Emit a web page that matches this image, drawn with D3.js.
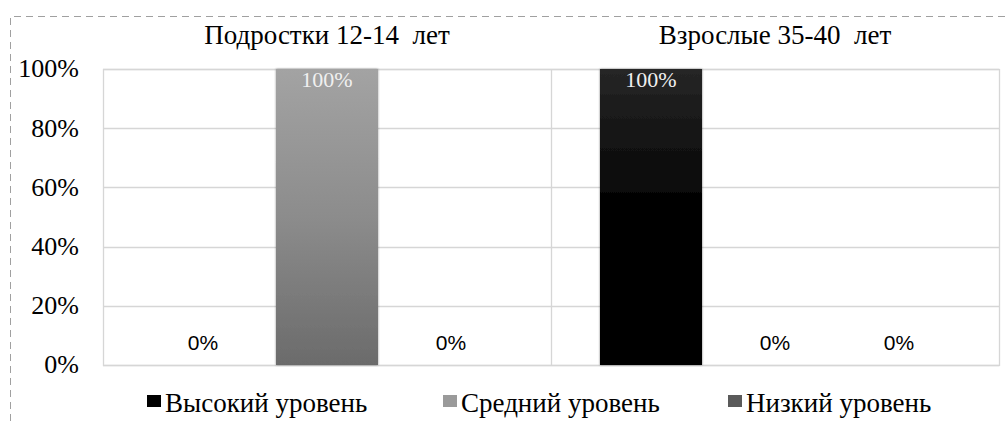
<!DOCTYPE html>
<html>
<head>
<meta charset="utf-8">
<script src="https://cdn.jsdelivr.net/npm/d3@7"></script>
<style>
  html, body { margin: 0; padding: 0; background: #fff; }
  svg { display: block; }
</style>
</head>
<body>
<svg id="chart" width="1006" height="421"></svg>
<script>
// Age groups, achievement levels and the share of each level per group
const groups = ["Подростки 12-14  лет", "Взрослые 35-40  лет"];
const levels = ["Высокий уровень", "Средний уровень", "Низкий уровень"];
const teens = [0, 1, 0];
const adults = [1, 0, 0];
const yTicks = [0, 0.2, 0.4, 0.6, 0.8, 1];

const values = [teens, adults];

const svg = d3.select("#chart");
const W = 1006, H = 421;
const plot = { left: 103, right: 999, top: 69, bottom: 365 };
const serif = "'Liberation Serif', 'Times New Roman', serif";
const sans = "'Liberation Sans', Arial, sans-serif";

// Dashed outline of the chart area
svg.append("path")
  .attr("d", `M10.5,${H} V16.5 H${W}`)
  .attr("fill", "none")
  .attr("stroke", "#a0a0a0")
  .attr("stroke-width", 1)
  .attr("stroke-dasharray", "7,5");

const x0 = d3.scaleBand().domain(groups).range([plot.left, plot.right]).padding(0);
const x1 = d3.scaleBand().domain(levels).range([0, x0.bandwidth()])
  .paddingInner(0.177).paddingOuter(0.395);
const y = d3.scaleLinear().domain([0, 1]).range([plot.bottom, plot.top]);

// Gradients for the bars
const defs = svg.append("defs");
const gradStops = {
  "Высокий уровень": [["0%", "#262626"], ["45%", "#040404"], ["100%", "#000000"]],
  "Средний уровень": [["0%", "#a3a3a3"], ["50%", "#8c8c8c"], ["100%", "#6b6b6b"]],
  "Низкий уровень": [["0%", "#6a6a6a"], ["50%", "#555555"], ["100%", "#3c3c3c"]]
};
const legendColor = {
  "Высокий уровень": "#000000",
  "Средний уровень": "#9a9a9a",
  "Низкий уровень": "#5a5a5a"
};
levels.forEach((lv, i) => {
  const g = defs.append("linearGradient").attr("id", "grad" + i)
    .attr("x1", 0).attr("y1", 0).attr("x2", 0).attr("y2", 1);
  gradStops[lv].forEach(s => g.append("stop").attr("offset", s[0]).attr("stop-color", s[1]));
});
const shadow = defs.append("filter").attr("id", "shadow")
  .attr("x", "-10%").attr("y", "-5%").attr("width", "120%").attr("height", "110%");
shadow.append("feGaussianBlur").attr("in", "SourceAlpha").attr("stdDeviation", 1.2).attr("result", "b");
shadow.append("feComponentTransfer").attr("in", "b").attr("result", "s")
  .append("feFuncA").attr("type", "linear").attr("slope", 0.45);
const merge = shadow.append("feMerge");
merge.append("feMergeNode").attr("in", "s");
merge.append("feMergeNode").attr("in", "SourceGraphic");

// Horizontal gridlines
svg.append("g").selectAll("line").data(yTicks).join("line")
  .attr("x1", plot.left).attr("x2", plot.right)
  .attr("y1", d => Math.round(y(d)) + 0.5).attr("y2", d => Math.round(y(d)) + 0.5)
  .attr("stroke", "#d6d6d6").attr("stroke-width", 1.3);

// Plot frame and group separator
svg.append("rect")
  .attr("x", plot.left + 0.5).attr("y", plot.top + 0.5)
  .attr("width", plot.right - plot.left).attr("height", plot.bottom - plot.top)
  .attr("fill", "none").attr("stroke", "#d6d6d6").attr("stroke-width", 1.3);
svg.append("g").selectAll("line").data(groups.slice(1)).join("line")
  .attr("x1", d => Math.round(x0(d)) + 0.5).attr("x2", d => Math.round(x0(d)) + 0.5)
  .attr("y1", plot.top).attr("y2", plot.bottom)
  .attr("stroke", "#d6d6d6").attr("stroke-width", 1.3);

// Y axis labels
const yAxis = d3.axisLeft(y).tickValues(yTicks).tickFormat(d3.format(".0%")).tickSize(0).tickPadding(0);
const yg = svg.append("g").attr("transform", "translate(79,0)").call(yAxis);
yg.select(".domain").remove();
yg.selectAll("text")
  .attr("font-family", serif)
  .attr("font-size", 26).attr("fill", "#000").attr("dy", "0.3em");

// Group titles
svg.append("g").selectAll("text").data(groups).join("text")
  .attr("x", d => x0(d) + x0.bandwidth() / 2)
  .attr("y", 44)
  .attr("text-anchor", "middle")
  .attr("font-family", serif)
  .attr("font-size", 27).attr("fill", "#000")
  .style("white-space", "pre")
  .text(d => d);

// Bars and value labels
const fmt = d3.format(".0%");
groups.forEach((gname, gi) => {
  const gx = x0(gname);
  const g = svg.append("g").attr("transform", `translate(${gx},0)`);
  const data = levels.map((lv, i) => ({ lv, i, v: values[gi][i] }));
  g.selectAll("rect").data(data.filter(d => d.v > 0)).join("rect")
    .attr("x", d => x1(d.lv)).attr("width", x1.bandwidth())
    .attr("y", d => y(d.v)).attr("height", d => y(0) - y(d.v))
    .attr("fill", d => `url(#grad${d.i})`)
    .attr("filter", "url(#shadow)");
  g.selectAll("text.val").data(data).join("text")
    .attr("class", "val")
    .attr("x", d => x1(d.lv) + x1.bandwidth() / 2)
    .attr("text-anchor", "middle")
    .each(function (d) {
      const t = d3.select(this);
      if (d.v > 0) {
        t.attr("y", y(d.v) + 18)
          .attr("font-family", serif)
          .attr("font-size", 22).attr("fill", "#f0f0f0");
      } else {
        t.attr("y", y(0) - 15)
          .attr("font-family", sans)
          .attr("font-size", 21).attr("fill", "#000");
      }
    })
    .text(d => fmt(d.v));
});

// Legend
const legendX = [147, 443, 728];
const lg = svg.append("g").selectAll("g").data(levels).join("g")
  .attr("transform", (d, i) => `translate(${legendX[i]},0)`);
lg.append("rect").attr("x", 0).attr("y", 395).attr("width", 14).attr("height", 12)
  .attr("fill", d => legendColor[d]);
lg.append("text").attr("x", 18).attr("y", 412)
  .attr("font-family", serif)
  .attr("font-size", 27).attr("fill", "#000")
  .text(d => d);
</script>
</body>
</html>
